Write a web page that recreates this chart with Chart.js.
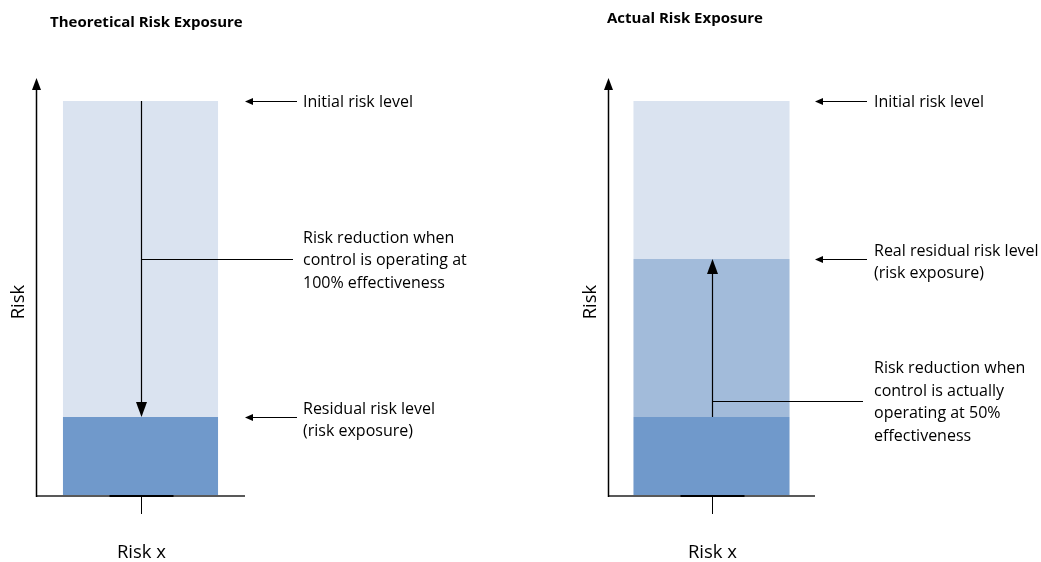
<!DOCTYPE html>
<html>
<head>
<meta charset="utf-8">
<script src="https://cdn.jsdelivr.net/npm/chart.js@4.4.1/dist/chart.umd.min.js"></script>
<style>
  html, body { margin: 0; padding: 0; background: #ffffff; }
  #wrap { position: relative; width: 1041px; height: 562px; overflow: hidden; }
  canvas { position: absolute; top: 0; }
  #theoretical { left: 0; }
  #actual { left: 520px; }
</style>
</head>
<body>
<div id="wrap">
  <canvas id="theoretical" width="520" height="562"></canvas>
  <canvas id="actual" width="521" height="562"></canvas>
</div>
<script>
// Risk levels (percent of initial risk)
const categories = ['Risk x'];
const theoreticalResidual = [20];
const theoreticalReduction = [80];
const actualResidual = [20];
const actualShortfall = [40];
const actualReduction = [40];
const initialLevel = 100;
const axisMax = 105.8;

const COLORS = {
  dark: '#7099CB',
  medium: '#A2BBDA',
  light: '#DAE3F0',
  ink: '#000000',
  axis: '#595959'
};
const FONT = '"Open Sans", Lato, sans-serif';

function arrowHead(ctx, x, y, dir, len, half) {
  ctx.beginPath();
  ctx.moveTo(x, y);
  if (dir === 'down') { ctx.lineTo(x - half, y - len); ctx.lineTo(x + half, y - len); }
  else if (dir === 'up') { ctx.lineTo(x - half, y + len); ctx.lineTo(x + half, y + len); }
  else if (dir === 'left') { ctx.lineTo(x + len, y - half); ctx.lineTo(x + len, y + half); }
  ctx.closePath();
  ctx.fill();
}

function textBlock(ctx, lines, x, yCenter, lh) {
  const start = yCenter + 1.5 - (lines.length - 1) * lh / 2;
  lines.forEach((t, i) => ctx.fillText(t, x, start + i * lh));
}

// Draws axes, arrows and annotation text for a panel
const panelDecor = {
  id: 'panelDecor',
  afterDatasetsDraw(chart, args, opts) {
    const ctx = chart.ctx;
    const area = chart.chartArea;
    const xs = chart.scales.x, ys = chart.scales.y;
    const cx = Math.round(xs.getPixelForValue(0)) + 0.5;
    const base = ys.getPixelForValue(0);
    ctx.save();
    ctx.fillStyle = COLORS.ink;
    ctx.strokeStyle = COLORS.ink;

    // title
    ctx.font = 'bold 15px ' + FONT;
    ctx.textAlign = 'left';
    ctx.textBaseline = 'middle';
    ctx.fillText(opts.title, opts.titleX, opts.titleY);

    // x axis line
    ctx.strokeStyle = COLORS.axis;
    ctx.lineWidth = 2;
    ctx.beginPath();
    ctx.moveTo(area.left, base); ctx.lineTo(area.right, base);
    ctx.stroke();
    // short dark segment at the category tick
    ctx.strokeStyle = COLORS.ink;
    ctx.lineWidth = 2;
    ctx.beginPath();
    ctx.moveTo(cx - 32, base); ctx.lineTo(cx + 32, base);
    ctx.stroke();
    // category tick
    ctx.lineWidth = 1;
    ctx.beginPath();
    ctx.moveTo(cx, base); ctx.lineTo(cx, base + 18);
    ctx.stroke();

    // y axis with arrow
    const yx = area.left + 0.5;
    ctx.lineWidth = 1.5;
    ctx.beginPath();
    ctx.moveTo(yx, base + 1); ctx.lineTo(yx, area.top + 8);
    ctx.stroke();
    arrowHead(ctx, yx, area.top, 'up', 12, 4.5);

    // axis titles
    ctx.font = '18.5px ' + FONT;
    ctx.textAlign = 'center';
    ctx.fillText(categories[0], cx, 553);
    ctx.save();
    ctx.translate(opts.riskX, 302);
    ctx.rotate(-Math.PI / 2);
    ctx.fillText('Risk', 0, 0);
    ctx.restore();

    // arrows through the bar
    ctx.lineWidth = 1.2;
    opts.barArrows.forEach(a => {
      const y0 = ys.getPixelForValue(a.from), y1 = ys.getPixelForValue(a.to);
      const dir = y1 > y0 ? 'down' : 'up';
      ctx.beginPath();
      ctx.moveTo(cx, y0); ctx.lineTo(cx, dir === 'down' ? y1 - 12 : y1 + 12);
      ctx.stroke();
      arrowHead(ctx, cx, y1, dir, 15, 5.5);
    });

    // connector from bar arrow to explanation
    const labelX = area.right + opts.labelGap;
    opts.connectors.forEach(c => {
      const y = Math.round(ys.getPixelForValue(c.value)) + 0.5;
      ctx.lineWidth = 1.2;
      ctx.beginPath();
      ctx.moveTo(cx, y); ctx.lineTo(area.right + 48, y);
      ctx.stroke();
      ctx.font = '16px ' + FONT;
      ctx.textAlign = 'left';
      textBlock(ctx, c.lines, labelX, ys.getPixelForValue(c.textValue), 22.5);
    });

    // level pointers
    opts.pointers.forEach(p => {
      const y = Math.round(ys.getPixelForValue(p.value)) + 0.5;
      ctx.lineWidth = 1.2;
      ctx.beginPath();
      ctx.moveTo(area.right + 6, y); ctx.lineTo(area.right + 52, y);
      ctx.stroke();
      arrowHead(ctx, area.right, y, 'left', 8, 3.5);
      ctx.font = '16px ' + FONT;
      ctx.textAlign = 'left';
      textBlock(ctx, p.lines, labelX, ys.getPixelForValue(p.textValue ?? p.value), 22.5);
    });
    ctx.restore();
  }
};

function makePanel(id, datasets, padding, decor, barPct) {
  return new Chart(document.getElementById(id), {
    type: 'bar',
    data: { labels: categories, datasets },
    options: {
      responsive: false,
      animation: false,
      devicePixelRatio: 1,
      layout: { padding },
      plugins: { legend: { display: false }, tooltip: { enabled: false }, title: { display: false }, panelDecor: decor },
      datasets: { bar: { barPercentage: barPct, categoryPercentage: 1, borderWidth: 0 } },
      scales: {
        x: { stacked: true, display: false },
        y: { stacked: true, display: false, min: 0, max: axisMax }
      }
    },
    plugins: [panelDecor]
  });
}

makePanel('theoretical', [
  { label: 'Residual risk', data: theoreticalResidual, backgroundColor: COLORS.dark },
  { label: 'Risk reduction', data: theoreticalReduction, backgroundColor: COLORS.light }
], { left: 36, right: 275, top: 78, bottom: 66 }, {
  title: 'Theoretical Risk Exposure', titleX: 50, titleY: 23, riskX: 19, labelGap: 58,
  barArrows: [{ from: initialLevel, to: theoreticalResidual[0] }],
  connectors: [{ value: 60, textValue: 60, lines: ['Risk reduction when', 'control is operating at', '100% effectiveness'] }],
  pointers: [
    { value: initialLevel, lines: ['Initial risk level'] },
    { value: theoreticalResidual[0], textValue: 19.5, lines: ['Residual risk level', '(risk exposure)'] }
  ]
}, 0.742);

makePanel('actual', [
  { label: 'Residual risk', data: actualResidual, backgroundColor: COLORS.dark },
  { label: 'Reduction not achieved', data: actualShortfall, backgroundColor: COLORS.medium },
  { label: 'Risk reduction', data: actualReduction, backgroundColor: COLORS.light }
], { left: 88, right: 226, top: 78, bottom: 66 }, {
  title: 'Actual Risk Exposure', titleX: 87, titleY: 19, riskX: 71, labelGap: 59,
  barArrows: [{ from: actualResidual[0], to: actualResidual[0] + actualShortfall[0] }],
  connectors: [{ value: 24, textValue: 24, lines: ['Risk reduction when', 'control is actually', 'operating at 50%', 'effectiveness'] }],
  pointers: [
    { value: initialLevel, lines: ['Initial risk level'] },
    { value: actualResidual[0] + actualShortfall[0], textValue: 59.5, lines: ['Real residual risk level', '(risk exposure)'] }
  ]
}, 0.754);
</script>
</body>
</html>
